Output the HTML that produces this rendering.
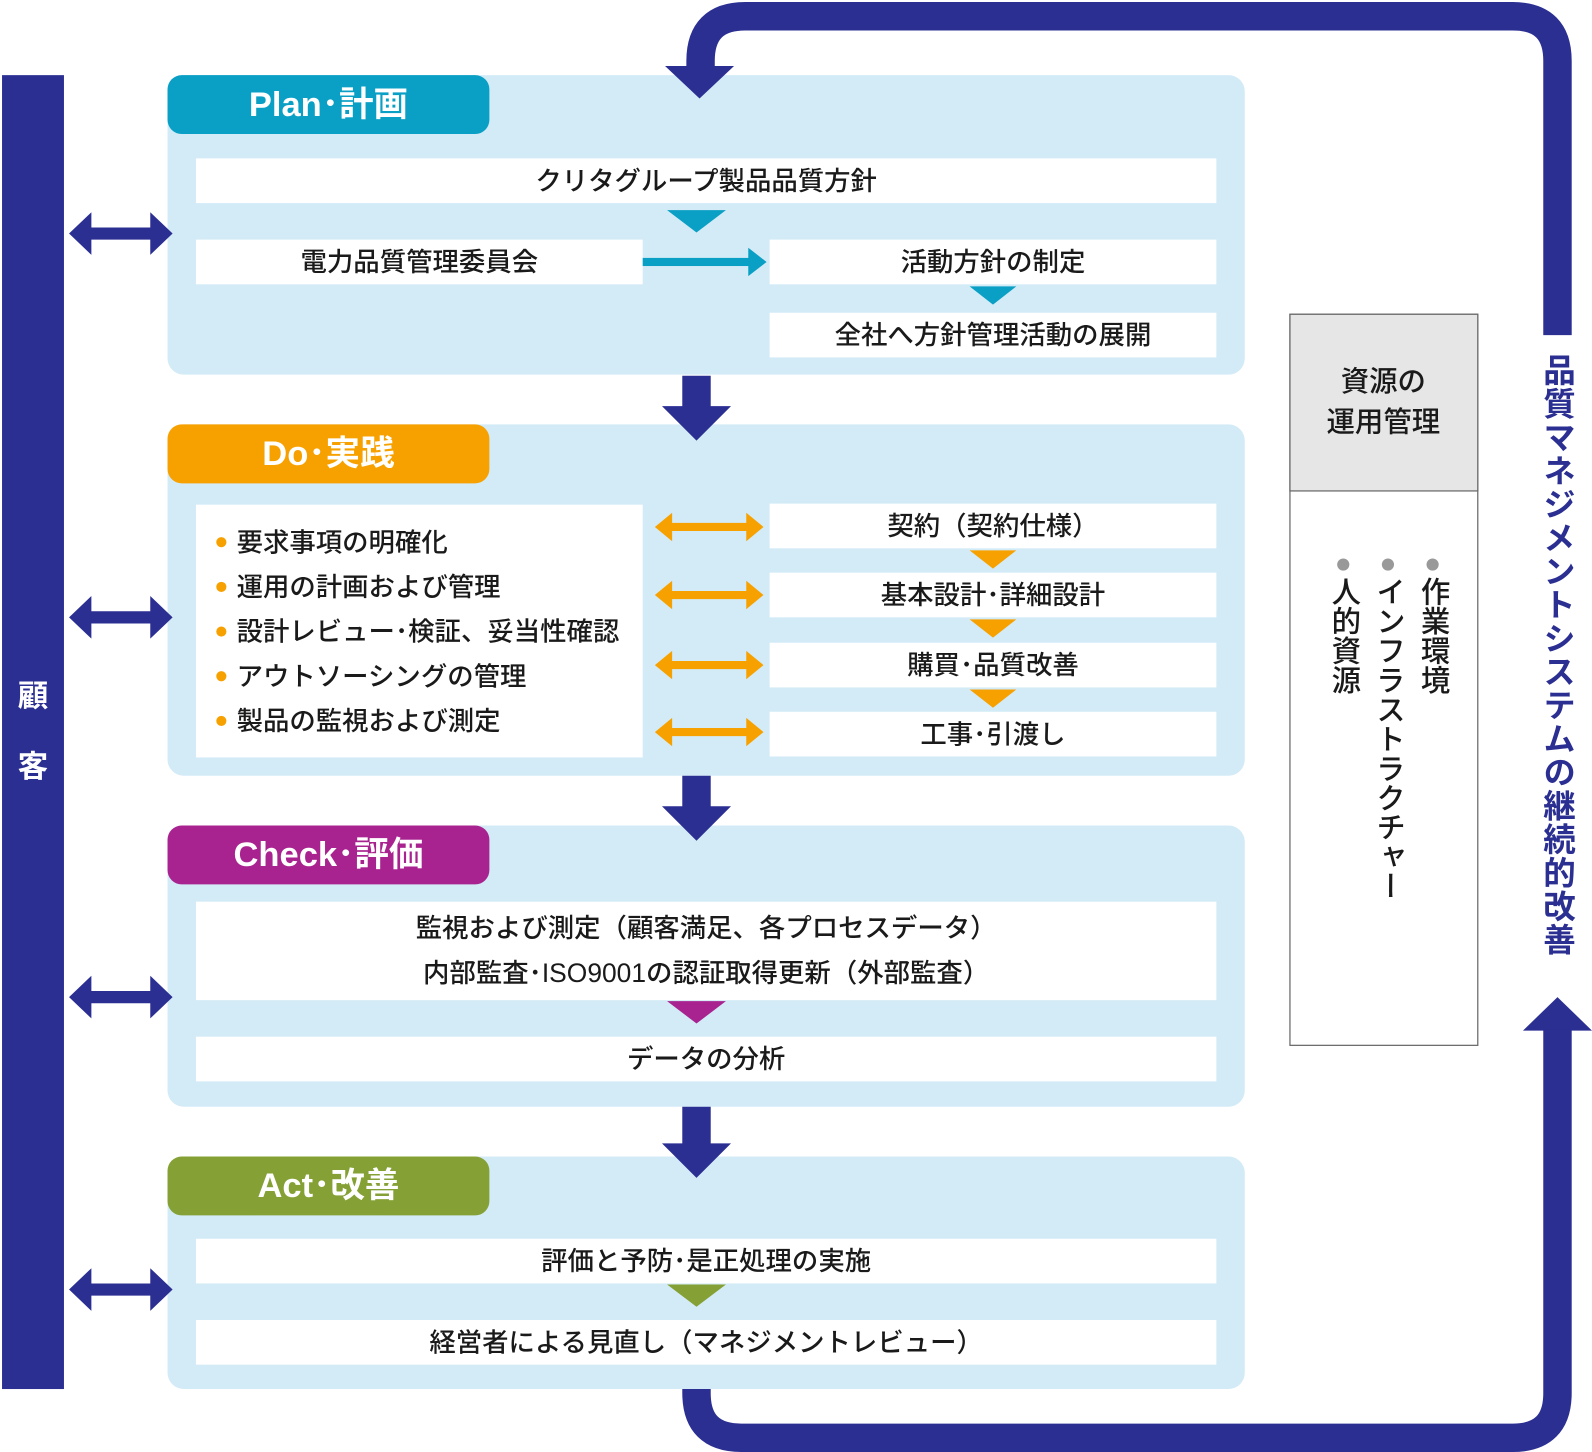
<!DOCTYPE html>
<html><head><meta charset="utf-8"><style>
html,body{margin:0;padding:0;background:#fff;width:1592px;height:1452px;overflow:hidden}
#w{position:absolute;left:0;top:0;width:1568px;height:1430px;transform:scale(1.01531,1.01538);transform-origin:0 0;font-family:"Liberation Sans","Noto Sans CJK JP",sans-serif}
svg{position:absolute;left:0;top:0}
.t{position:absolute;font-size:26px;color:#1a1a1a;white-space:nowrap;line-height:1;text-align:center;font-weight:500}
.h{position:absolute;font-size:34px;color:#fff;font-weight:bold;white-space:nowrap;line-height:1;text-align:center;width:317px;left:165px}
.v{position:absolute;writing-mode:vertical-rl;white-space:nowrap;line-height:1;font-weight:500}
</style></head><body><div id="w">
<svg width="1568" height="1430" viewBox="0 0 1568 1430">
<g fill="#d3ebf7">
<rect x="165" y="74" width="1061" height="295" rx="16"/>
<rect x="165" y="418" width="1061" height="346" rx="16"/>
<rect x="165" y="813" width="1061" height="277" rx="16"/>
<rect x="165" y="1139" width="1061" height="229" rx="16"/>
</g>
<rect x="165" y="74" width="317" height="58" rx="14" fill="#0a9fc4"/>
<rect x="165" y="418" width="317" height="58" rx="14" fill="#f7a100"/>
<rect x="165" y="813" width="317" height="58" rx="14" fill="#a8238f"/>
<rect x="165" y="1139" width="317" height="58" rx="14" fill="#85a035"/>
<g fill="#fff">
<rect x="193" y="156" width="1005" height="44"/>
<rect x="193" y="236" width="440" height="44"/>
<rect x="758" y="236" width="440" height="44"/>
<rect x="758" y="308" width="440" height="44"/>
<rect x="193" y="497" width="440" height="249"/>
<rect x="758" y="496" width="440" height="44"/>
<rect x="758" y="564" width="440" height="44"/>
<rect x="758" y="633" width="440" height="44"/>
<rect x="758" y="701" width="440" height="44"/>
<rect x="193" y="888" width="1005" height="97"/>
<rect x="193" y="1021" width="1005" height="44"/>
<rect x="193" y="1220" width="1005" height="44"/>
<rect x="193" y="1300" width="1005" height="44"/>
</g>
<g fill="#0a9fc4">
<polygon points="657,207 715,207 686,229"/>
<polygon points="955,282 1001,282 978,300"/>
<rect x="633" y="254" width="106" height="8"/>
<polygon points="737,244 755,258 737,272"/>
</g>
<g fill="#f7a100">
<polygon points="955,542 1001,542 978,560"/>
<polygon points="955,610 1001,610 978,628"/>
<polygon points="955,679 1001,679 978,697"/>
</g>
<g fill="#f7a100">
<path d="M645,519 L662,505 L662,515 L735,515 L735,505 L752,519 L735,533 L735,523 L662,523 L662,533Z"/>
<path transform="translate(0,67)" d="M645,519 L662,505 L662,515 L735,515 L735,505 L752,519 L735,533 L735,523 L662,523 L662,533Z"/>
<path transform="translate(0,136)" d="M645,519 L662,505 L662,515 L735,515 L735,505 L752,519 L735,533 L735,523 L662,523 L662,533Z"/>
<path transform="translate(0,202)" d="M645,519 L662,505 L662,515 L735,515 L735,505 L752,519 L735,533 L735,523 L662,523 L662,533Z"/>
</g>
<polygon points="657,986 715,986 686,1008" fill="#a8238f"/>
<polygon points="657,1265 715,1265 686,1287" fill="#85a035"/>
<g fill="#f7a100">
<circle cx="218" cy="534" r="5"/><circle cx="218" cy="578" r="5"/><circle cx="218" cy="622" r="5"/><circle cx="218" cy="666" r="5"/><circle cx="218" cy="710" r="5"/>
</g>
<g fill="#2b2f92">
<rect x="2" y="74" width="61" height="1294"/>
<path d="M672,370 h28 v30 h20 l-34,34 l-34,-34 h20z"/>
<path d="M672,764 h28 v30 h20 l-34,34 l-34,-34 h20z"/>
<path d="M672,1090 h28 v36 h20 l-34,34 l-34,-34 h20z"/>
<path d="M68,230 L90,209 L90,224 L148,224 L148,209 L170,230 L148,251 L148,236 L90,236 L90,251Z"/>
<path transform="translate(0,378)" d="M68,230 L90,209 L90,224 L148,224 L148,209 L170,230 L148,251 L148,236 L90,236 L90,251Z"/>
<path transform="translate(0,752)" d="M68,230 L90,209 L90,224 L148,224 L148,209 L170,230 L148,251 L148,236 L90,236 L90,251Z"/>
<path transform="translate(0,1040)" d="M68,230 L90,209 L90,224 L148,224 L148,209 L170,230 L148,251 L148,236 L90,236 L90,251Z"/>
<polygon points="655,65 723,65 689,97"/>
<polygon points="1500,1015 1568,1015 1534,982"/>
</g>
<g fill="none" stroke="#2b2f92" stroke-width="28">
<path d="M690,66 V60 Q690,16 734,16 H1490 Q1534,16 1534,60 V330"/>
<path d="M686,1368 V1372 Q686,1416 730,1416 H1490 Q1534,1416 1534,1372 V1014"/>
</g>
<rect x="1270.5" y="309.5" width="185" height="720" fill="#fff" stroke="#666" stroke-width="1.2"/>
<rect x="1270.5" y="309.5" width="185" height="174" fill="#e6e6e6" stroke="#666" stroke-width="1.2"/>
<g fill="#999"><circle cx="1411" cy="556" r="6"/><circle cx="1367" cy="556" r="6"/><circle cx="1323" cy="556" r="6"/></g>
</svg>
<div class="h" style="top:86px">Plan･計画</div>
<div class="h" style="top:430px">Do･実践</div>
<div class="h" style="top:825px">Check･評価</div>
<div class="h" style="top:1151px">Act･改善</div>
<div class="t" style="left:193px;width:1005px;top:165px">クリタグループ製品品質方針</div>
<div class="t" style="left:193px;width:440px;top:245px">電力品質管理委員会</div>
<div class="t" style="left:758px;width:440px;top:245px">活動方針の制定</div>
<div class="t" style="left:758px;width:440px;top:317px">全社へ方針管理活動の展開</div>
<div class="t" style="left:233px;top:521px;text-align:left">要求事項の明確化</div>
<div class="t" style="left:233px;top:565px;text-align:left">運用の計画および管理</div>
<div class="t" style="left:233px;top:609px;text-align:left">設計レビュー･検証、妥当性確認</div>
<div class="t" style="left:233px;top:653px;text-align:left">アウトソーシングの管理</div>
<div class="t" style="left:233px;top:697px;text-align:left">製品の監視および測定</div>
<div class="t" style="left:758px;width:440px;top:505px">契約（契約仕様）</div>
<div class="t" style="left:758px;width:440px;top:573px">基本設計･詳細設計</div>
<div class="t" style="left:758px;width:440px;top:642px">購買･品質改善</div>
<div class="t" style="left:758px;width:440px;top:710px">工事･引渡し</div>
<div class="t" style="left:193px;width:1005px;top:901px">監視および測定（顧客満足、各プロセスデータ）</div>
<div class="t" style="left:193px;width:1005px;top:945px">内部監査･ISO9001の認証取得更新（外部監査）</div>
<div class="t" style="left:193px;width:1005px;top:1030px">データの分析</div>
<div class="t" style="left:193px;width:1005px;top:1229px">評価と予防･是正処理の実施</div>
<div class="t" style="left:193px;width:1005px;top:1309px">経営者による見直し（マネジメントレビュー）</div>
<div class="t" style="left:2px;width:61px;top:672px;color:#fff;font-size:30px;font-weight:bold">顧</div>
<div class="t" style="left:2px;width:61px;top:741px;color:#fff;font-size:30px;font-weight:bold">客</div>
<div class="t" style="left:1270px;width:185px;top:362px;font-size:28px">資源の</div>
<div class="t" style="left:1270px;width:185px;top:402px;font-size:28px">運用管理</div>
<div class="v" style="left:1396px;top:568px;font-size:29px;color:#1a1a1a">作業環境</div>
<div class="v" style="left:1352px;top:568px;font-size:29px;color:#1a1a1a">インフラストラクチャー</div>
<div class="v" style="left:1308px;top:568px;font-size:29px;color:#1a1a1a">人的資源</div>
<div class="v" style="left:1518px;top:348px;font-size:32px;color:#2b2f92;font-weight:bold;letter-spacing:1px">品質マネジメントシステムの継続的改善</div>
</div></body></html>
